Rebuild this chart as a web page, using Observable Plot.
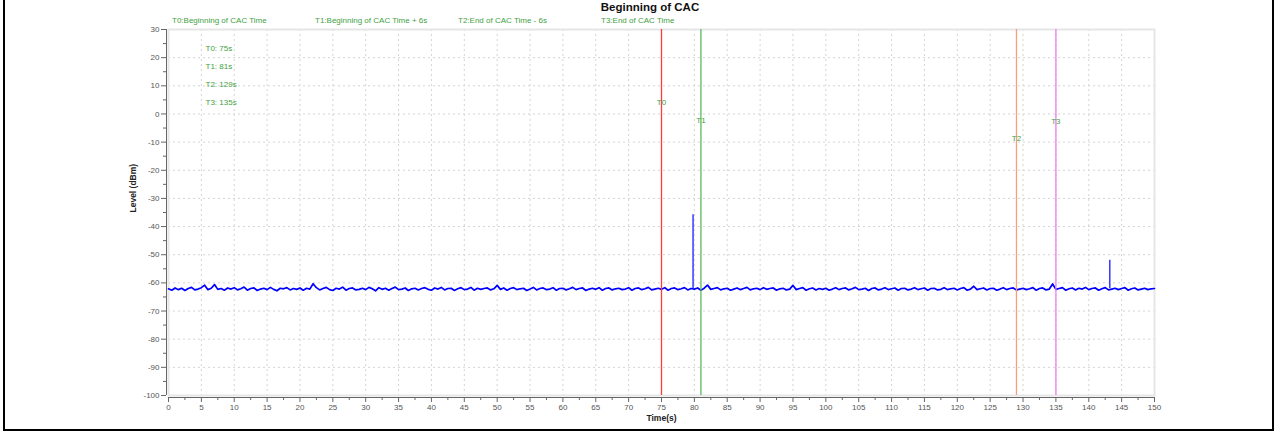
<!DOCTYPE html>
<html><head><meta charset="utf-8">
<script src="https://cdn.jsdelivr.net/npm/d3@7"></script>
<script src="https://cdn.jsdelivr.net/npm/@observablehq/plot@0.6"></script>
<style>
body{margin:0;background:#fff;}
#wrap{position:relative;width:1281px;height:435px;overflow:hidden;font-family:"Liberation Sans",Arial,sans-serif;}
#border{position:absolute;left:3px;top:-4px;width:1271px;height:435px;border:2px solid #000;box-sizing:border-box;pointer-events:none;}
#title{position:absolute;left:550px;width:200px;top:1px;text-align:center;font-weight:bold;font-size:11.5px;color:#111;}
.leg{position:absolute;top:16px;font-size:8px;color:#3f9f3f;white-space:nowrap;font-family:"Liberation Sans Narrow","Liberation Sans",Arial,sans-serif;}
svg{position:absolute;left:0;top:0;}
</style></head>
<body>
<div id="wrap"><div id="title">Beginning of CAC</div></div>
<script>
// ---- data ----
const title = "Beginning of CAC";
const markerNames = ["T0", "T1", "T2", "T3"];
const markerTimes = [75, 81, 129, 135];
const markerDescriptions = ["T0:Beginning of CAC Time", "T1:Beginning of CAC Time + 6s", "T2:End of CAC Time - 6s", "T3:End of CAC Time"];
const markerColors = ["#ff3b3b", "#5cb85c", "#f3a07e", "#f07cf0"];
const markerLabelLevels = [4.0, -2.4, -8.8, -2.6];
const sampleStep = 0.5;
const levels = [
-62.1,-62.6,-61.8,-62.4,-61.9,-62.7,-62.0,-61.6,-62.5,-62.2,-61.7,-60.8,-62.4,-61.9,-60.6,-62.3,-62.0,-62.6,-61.8,-62.2,
-61.7,-62.5,-62.1,-61.5,-62.6,-62.0,-61.8,-62.7,-62.2,-61.9,-62.4,-61.6,-62.3,-62.8,-61.9,-62.1,-61.7,-62.5,-62.0,-62.3,
-61.8,-62.6,-61.9,-62.2,-60.3,-61.7,-62.5,-62.0,-61.6,-62.4,-62.7,-61.9,-62.2,-61.5,-62.6,-62.0,-61.8,-62.5,-62.3,-61.9,
-62.4,-61.6,-62.1,-62.8,-61.7,-62.3,-61.9,-62.6,-62.0,-61.5,-62.4,-62.2,-61.8,-62.7,-62.1,-61.9,-62.5,-62.0,-61.7,-62.3,
-62.6,-61.8,-62.2,-61.6,-62.5,-62.0,-61.9,-62.7,-62.1,-61.7,-62.4,-62.2,-61.6,-62.6,-61.9,-62.3,-62.0,-61.8,-62.5,-62.1,
-60.9,-62.3,-61.8,-62.6,-62.0,-61.7,-62.4,-62.1,-61.9,-62.7,-62.2,-61.6,-62.5,-62.0,-61.8,-62.4,-62.2,-61.7,-62.6,-62.0,
-61.9,-62.5,-62.1,-61.6,-62.4,-62.0,-61.8,-62.7,-62.2,-61.9,-62.3,-61.7,-62.6,-62.0,-61.8,-62.5,-62.1,-61.9,-62.4,-62.2,
-61.7,-62.6,-62.0,-61.8,-62.4,-62.1,-61.6,-62.5,-62.2,-61.9,-62.3,-61.7,-62.6,-62.0,-61.8,-62.4,-62.1,-61.7,-62.5,-62.0,
-62.2,-61.8,-62.6,-61.9,-60.8,-62.3,-62.0,-61.7,-62.5,-62.1,-61.9,-62.6,-62.2,-61.8,-62.4,-62.0,-61.6,-62.5,-62.1,-61.9,
-62.4,-61.7,-62.3,-62.0,-61.8,-62.6,-62.1,-61.9,-62.5,-62.2,-60.9,-62.4,-62.0,-61.7,-62.6,-62.1,-61.8,-62.5,-62.0,-62.3,
-61.9,-62.6,-62.2,-61.7,-62.4,-62.0,-61.8,-62.5,-62.1,-61.6,-62.4,-62.2,-61.9,-62.7,-62.0,-61.8,-62.5,-62.2,-61.7,-62.4,
-62.1,-61.8,-62.6,-62.0,-61.9,-62.5,-62.2,-61.7,-62.4,-62.1,-61.8,-62.6,-62.0,-61.9,-62.5,-62.3,-61.7,-62.4,-62.1,-61.9,
-62.5,-62.0,-61.7,-62.6,-62.2,-61.2,-62.4,-62.1,-61.8,-62.5,-62.0,-61.9,-62.6,-62.2,-61.7,-62.4,-62.0,-61.8,-62.5,-62.2,
-61.9,-62.4,-62.1,-61.7,-62.6,-62.0,-61.8,-62.5,-62.2,-60.4,-62.3,-62.0,-61.7,-62.6,-62.1,-61.8,-62.5,-61.9,-62.2,-61.6,
-62.4,-62.0,-61.8,-62.6,-62.1,-61.7,-62.5,-62.2,-61.9,-62.4,-62.0,-61.7,-62.6,-62.1,-61.8,-62.5,-62.2,-61.9,-62.4,-62.1,
-62.0];
const spikeTimes = [79.8, 143.2];
const spikePeaks = [-35.8, -52.0];
const spikeBases = [-62.0, -62.0];
const xTicks = d3.range(0, 151, 5);
const yTicks = d3.range(-100, 31, 10);
const yMinorTicks = d3.range(-95, 31, 10);
const xMinorTicks = d3.range(2.5, 150, 5);

// ---- build tables ----
const series = levels.map((v, i) => ({t: i * sampleStep, v}));
const spikes = spikeTimes.map((t, i) => ({t, lo: spikeBases[i], hi: spikePeaks[i]}));
const markers = markerNames.map((n, i) => ({name: n, t: markerTimes[i], color: markerColors[i], ly: markerLabelLevels[i]}));
const infoText = markerNames.map((n, i) => `${n}: ${markerTimes[i]}s`).join("\n");

const tickFont = "'Liberation Sans Narrow','Liberation Sans',Arial,sans-serif";
const green = "#3f9f3f";

const chart = Plot.plot({
  width: 1281, height: 435,
  marginLeft: 168, marginRight: 127, marginTop: 29, marginBottom: 40,
  style: {background: "transparent", fontFamily: "'Liberation Sans',Arial,sans-serif"},
  x: {domain: [0, 150]},
  y: {domain: [-100, 30]},
  marks: [
    Plot.gridX(xTicks, {stroke: "#d4d4d4", strokeOpacity: 1, strokeDasharray: "2,3"}),
    Plot.gridY(yTicks, {stroke: "#d4d4d4", strokeOpacity: 1, strokeDasharray: "2,3"}),
    Plot.frame({stroke: "#e6e6e6", strokeWidth: 2}),
    Plot.ruleX([0], {dx: -2, stroke: "#666", y1: -100, y2: 30}),
    Plot.ruleY([-100], {dy: 2, stroke: "#666", x1: 0, x2: 150}),
    Plot.axisY(yTicks, {tickSize: 5, dx: -2, tickPadding: 2, stroke: "#666", fill: "#555", fontSize: 8, fontFamily: tickFont, label: null, tickFormat: d => d}),
    Plot.axisY(yMinorTicks, {tickSize: 3, dx: -2, stroke: "#666", tickFormat: () => "", label: null}),
    Plot.axisX(xTicks, {tickSize: 5, dy: 2, tickPadding: 2, stroke: "#666", fill: "#555", fontSize: 8, fontFamily: tickFont, label: null}),
    Plot.axisX(xMinorTicks, {tickSize: 3, dy: 2, stroke: "#666", tickFormat: () => "", label: null}),
    Plot.line(series, {x: "t", y: "v", stroke: "#0000ff", strokeWidth: 1.7}),
    Plot.ruleX(spikes, {x: "t", y1: "lo", y2: "hi", stroke: "#2a2aff", strokeWidth: 1.4}),
    Plot.ruleX(markers, {x: "t", y1: -100, y2: 30, stroke: "color", strokeWidth: 1.3}),
    Plot.text(markers, {x: "t", y: "ly", text: "name", fill: green, fontSize: 8, fontFamily: tickFont, textAnchor: "middle"}),
    Plot.text([infoText], {frameAnchor: "top-left", dx: 37, dy: 9, text: d => d, fill: green, fontSize: 8, fontFamily: tickFont, lineHeight: 2.25, textAnchor: "start", lineAnchor: "top"}),
    Plot.text(["Level (dBm)"], {frameAnchor: "left", dx: -35, rotate: -90, text: d => d, fontWeight: "bold", fontSize: 8.5, fill: "#222"}),
    Plot.text(["Time(s)"], {frameAnchor: "bottom", dy: 25, text: d => d, fontWeight: "bold", fontSize: 8.5, fill: "#222"})
  ]
});
const wrap = document.getElementById("wrap");
wrap.appendChild(chart);
markerDescriptions.forEach((d, i) => {
  const s = document.createElement("div");
  s.className = "leg";
  s.style.left = (172 + i * 143) + "px";
  s.textContent = d;
  wrap.appendChild(s);
});
const b = document.createElement("div"); b.id = "border"; wrap.appendChild(b);
document.getElementById("title").textContent = title;
</script>
</body></html>
